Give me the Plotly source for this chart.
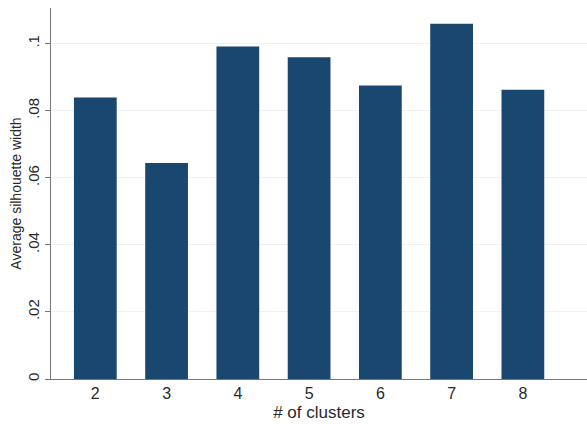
import plotly.graph_objects as go

clusters = [2, 3, 4, 5, 6, 7, 8]
silhouette = [0.0839, 0.0644, 0.0991, 0.0959, 0.0875, 0.1059, 0.0862]
ytick_vals = [0, 0.02, 0.04, 0.06, 0.08, 0.1]
ytick_text = ["0", ".02", ".04", ".06", ".08", ".1"]

fig = go.Figure(go.Bar(x=clusters, y=silhouette, width=0.6,
                       marker=dict(color="#1a476f", line=dict(width=0))))

fig.update_layout(
    width=587, height=424,
    margin=dict(l=51, r=0, t=8, b=45),
    paper_bgcolor="white", plot_bgcolor="white",
    font=dict(family="Liberation Sans, Arial, sans-serif", size=14, color="#2a2a2a"),
    showlegend=False,
)
fig.update_xaxes(
    range=[1.378, 8.9], tickvals=clusters, ticktext=[str(c) for c in clusters],
    tickfont=dict(size=16),
    showgrid=False, zeroline=False, showline=True, linecolor="#777", linewidth=1,
    ticks="", automargin=False,
    title=dict(text="# of clusters", standoff=4, font=dict(size=17)),
)
fig.update_yaxes(
    range=[0, 0.1106], tickvals=ytick_vals, ticktext=ytick_text, tickangle=-90,
    tickfont=dict(size=15),
    showgrid=True, gridcolor="#eef2f4", gridwidth=1, zeroline=False,
    showline=True, linecolor="#777", linewidth=1, ticks="outside", ticklen=5,
    tickcolor="#777", automargin=False,
    title=dict(text="Average silhouette width", standoff=0, font=dict(size=14)),
)

fig.write_html(
    "out.html",
    config={"displayModeBar": False},
    post_script="document.body.style.margin='0';document.body.style.overflow='hidden';",
)
